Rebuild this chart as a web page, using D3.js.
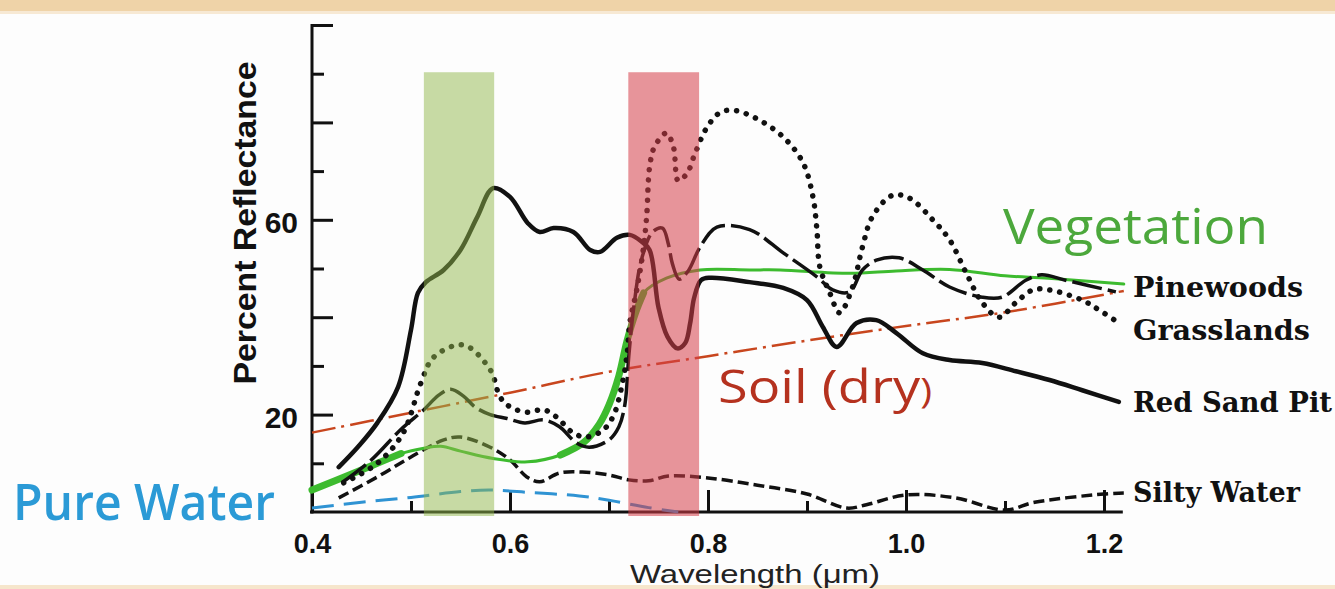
<!DOCTYPE html>
<html>
<head>
<meta charset="utf-8">
<script src="https://cdn.jsdelivr.net/npm/d3@7"></script>
<style>
  body { margin: 0; background: #fff; }
  svg { display: block; }
  .axis text { font-family: "Liberation Sans", Arial, sans-serif; font-weight: bold; fill: #111; }
  .axis line { stroke-width: 3px; }
  .series-label { font-family: "DejaVu Serif", serif; font-weight: bold; font-size: 27px; fill: #111; }
  .big-label { font-family: "Open Sans", sans-serif; }
</style>
</head>
<body>
<script>
// wavelength (um) / percent reflectance
var waveMajor = [0.4, 0.6, 0.8, 1.0, 1.2],
    waveMinor = [0.5, 0.7, 0.9, 1.1],
    reflMajor = [20, 40, 60, 80, 100],
    reflMinor = [10, 30, 50, 70, 90],
    reflLabels = [20, 60];

var greenBand = [0.513, 0.584],
    redBand = [0.7195, 0.791],
    bandTop = 90.3;

var redSandPit = [
  [0.427, 9.2], [0.447, 13.5], [0.466, 18.3], [0.487, 25.7], [0.5, 37.4], [0.507, 45],
  [0.515, 47.2], [0.533, 49.7], [0.55, 53.8], [0.567, 60.6], [0.583, 66.5], [0.6, 64.7],
  [0.618, 59.3], [0.63, 57.5], [0.644, 58.3], [0.664, 57.5], [0.681, 53.8], [0.691, 53.4],
  [0.708, 56.3], [0.721, 56.9], [0.733, 55.5], [0.741, 53.8], [0.75, 42], [0.759, 36],
  [0.769, 33.6], [0.777, 34.7], [0.782, 38.8], [0.786, 44], [0.793, 47.6], [0.802, 48.1],
  [0.842, 47.2], [0.876, 46], [0.9, 43.5], [0.916, 38], [0.93, 33.9], [0.95, 38.8],
  [0.97, 39.4], [0.99, 36.8], [1.017, 32.6], [1.044, 31.2], [1.077, 30.6], [1.111, 28.9],
  [1.145, 27.1], [1.178, 25], [1.215, 22.6]
];

var pinewoods = [
  [0.43, 6], [0.46, 10.7], [0.49, 17], [0.513, 21], [0.528, 24], [0.54, 25.2], [0.553, 23.8],
  [0.565, 21.5], [0.58, 20], [0.597, 19.2], [0.615, 18.3], [0.634, 18.9], [0.65, 17.5],
  [0.667, 14.2], [0.68, 13.3], [0.7, 14.8], [0.71, 17.5], [0.716, 22], [0.72, 32],
  [0.725, 42], [0.733, 52], [0.744, 57.5], [0.754, 58.3], [0.76, 55], [0.764, 51],
  [0.771, 47.8], [0.78, 49.5], [0.792, 54.4], [0.809, 58.5], [0.842, 58], [0.876, 53.2],
  [0.91, 48.3], [0.926, 45.6], [0.943, 45.2], [0.956, 49.7], [0.97, 51.7], [0.993, 52.2],
  [1.017, 49.7], [1.044, 46.2], [1.077, 44.1], [1.097, 44.1], [1.121, 47.6], [1.137, 48.7],
  [1.161, 47.6], [1.212, 45.2]
];

var grasslands = [
  [0.432, 6], [0.466, 10], [0.492, 16.2], [0.51, 26.5], [0.523, 31.8], [0.553, 34.3],
  [0.58, 29.2], [0.59, 23.6], [0.6, 21.6], [0.617, 20.5], [0.634, 21], [0.647, 19.5],
  [0.664, 16.2], [0.678, 15.4], [0.695, 17], [0.705, 20], [0.712, 25], [0.718, 31.8],
  [0.721, 38.8], [0.728, 45.6], [0.734, 53], [0.738, 60.6], [0.741, 70.8], [0.746, 75],
  [0.758, 77.8], [0.765, 75], [0.77, 68], [0.779, 69.6], [0.787, 73.7], [0.799, 79],
  [0.812, 82], [0.825, 82.5], [0.847, 81], [0.876, 77], [0.896, 71.7], [0.906, 64.7],
  [0.91, 58], [0.913, 50.3], [0.923, 45], [0.933, 40.9], [0.946, 46.2], [0.956, 54.4],
  [0.966, 60.6], [0.986, 65], [1.003, 64.5], [1.027, 60], [1.044, 55.9], [1.061, 49],
  [1.077, 43], [1.094, 40], [1.111, 43], [1.128, 45.6], [1.145, 45.6], [1.178, 43.5],
  [1.195, 41.5], [1.215, 38.8]
];

var siltyWater = [
  [0.427, 2.9], [0.466, 7.2], [0.5, 11.3], [0.533, 14.8], [0.55, 15.4], [0.58, 13.3],
  [0.6, 10.7], [0.617, 7.2], [0.63, 6.2], [0.65, 8], [0.673, 8.2], [0.7, 7.6], [0.72, 6.6],
  [0.74, 6.4], [0.76, 7.4], [0.8, 7], [0.85, 5.5], [0.9, 3.7], [0.94, 0.8], [0.96, 1.5],
  [1.0, 3.5], [1.05, 2.9], [1.1, 0.4], [1.13, 2], [1.2, 3.7], [1.22, 3.9]
];

var pureWater = [
  [0.4, 0.8], [0.45, 2], [0.5, 3], [0.55, 4.2], [0.58, 4.5], [0.62, 4], [0.67, 3.3],
  [0.7, 2.4], [0.74, 0.9], [0.77, 0]
];

var soilDry = [
  [0.4, 16.3], [0.5, 20.4], [0.6, 24.5], [0.7, 28.8], [0.8, 32], [0.9, 35.2],
  [1.0, 38.2], [1.1, 41], [1.22, 45.4]
];

var vegetation = [
  [0.4, 4.5], [0.44, 7.8], [0.466, 10], [0.49, 12], [0.513, 13.1], [0.53, 13.5],
  [0.55, 12.5], [0.583, 11], [0.618, 10.3], [0.651, 11.7], [0.674, 14.2], [0.69, 18],
  [0.7, 22], [0.71, 28], [0.718, 35], [0.727, 41], [0.735, 45], [0.758, 48], [0.792, 49.7],
  [0.842, 49.7], [0.873, 49.7], [0.943, 49], [0.99, 49.5], [1.044, 49.8], [1.1, 48.5],
  [1.144, 48], [1.22, 46.8]
];

var width = 1335, height = 589;

var svg = d3.select("body").append("svg")
    .attr("width", width)
    .attr("height", height);

svg.append("rect").attr("width", width).attr("height", height).attr("fill", "#fdfdfd");
// beige frame of the slide
svg.append("rect").attr("x", 0).attr("y", 0).attr("width", width).attr("height", 11).attr("fill", "#efd3a8");
svg.append("rect").attr("x", 0).attr("y", 11).attr("width", width).attr("height", 3).attr("fill", "#f7e9d4");
svg.append("rect").attr("x", 0).attr("y", 585).attr("width", width).attr("height", 4).attr("fill", "#f6e6cc");

var x = d3.scaleLinear().domain([0.4, 1.2]).range([312, 1104]);
var y = d3.scaleLinear().domain([0, 100]).range([512, 25]);

var line = d3.line()
    .x(function(d) { return x(d[0]); })
    .y(function(d) { return y(d[1]); })
    .curve(d3.curveCatmullRom.alpha(0.5));

// axes
var axesG = svg.append("g").attr("class", "axis").attr("color", "#111");

axesG.append("g")
    .attr("transform", "translate(0," + y(0) + ")")
    .call(d3.axisBottom(x).tickValues(waveMajor).tickSize(-22).tickPadding(22)
        .tickFormat(d3.format(".1f")))
    .call(function(g) { g.select(".domain").remove(); })
    .selectAll("text").style("font-size", "27px");

axesG.append("g")
    .attr("transform", "translate(0," + y(0) + ")")
    .call(d3.axisBottom(x).tickValues(waveMinor).tickSize(-11).tickFormat(""))
    .call(function(g) { g.select(".domain").remove(); });

axesG.append("g")
    .attr("transform", "translate(" + x(0.4) + ",0)")
    .call(d3.axisLeft(y).tickValues(reflMajor).tickSize(-21).tickPadding(14)
        .tickFormat(function(d) { return reflLabels.indexOf(d) >= 0 ? d : ""; }))
    .call(function(g) { g.select(".domain").remove(); })
    .selectAll("text").style("font-size", "30px").attr("dy", "0.42em");

axesG.append("g")
    .attr("transform", "translate(" + x(0.4) + ",0)")
    .call(d3.axisLeft(y).tickValues(reflMinor).tickSize(-12).tickFormat(""))
    .call(function(g) { g.select(".domain").remove(); });

axesG.append("line")
    .attr("x1", x(0.4)).attr("x2", x(0.4))
    .attr("y1", y(100) - 1).attr("y2", y(0) + 1.5)
    .attr("stroke", "#111").attr("stroke-width", 3.5);
axesG.append("line")
    .attr("x1", x(0.4) - 2).attr("x2", x(1.219))
    .attr("y1", y(0)).attr("y2", y(0))
    .attr("stroke", "#111").attr("stroke-width", 3);

// curves
var bodyG = svg.append("g").attr("fill", "none").attr("stroke-linecap", "round");

bodyG.append("path").datum(soilDry)
    .attr("d", line)
    .attr("stroke", "#c8461e").attr("stroke-width", 2.5)
    .attr("stroke-linecap", "butt")
    .attr("stroke-dasharray", "24,6,3,6");

bodyG.append("path").datum(pureWater)
    .attr("d", line)
    .attr("stroke", "#2f93d3").attr("stroke-width", 3)
    .attr("stroke-linecap", "butt")
    .attr("stroke-dasharray", "22,10");

bodyG.append("path").datum(siltyWater)
    .attr("d", line)
    .attr("stroke", "#111").attr("stroke-width", 3.5)
    .attr("stroke-linecap", "butt")
    .attr("stroke-dasharray", "11,5");

bodyG.append("path").datum(vegetation)
    .attr("d", line)
    .attr("stroke", "#3dbb2f").attr("stroke-width", 3);

[[0.4, 0.5], [0.64, 0.745]].forEach(function(r) {
    bodyG.append("path")
        .datum(vegetation.filter(function(d) { return d[0] >= r[0] && d[0] <= r[1]; }))
        .attr("d", line)
        .attr("stroke", "#3dbb2f").attr("stroke-width", 7);
});

bodyG.append("path").datum(grasslands)
    .attr("d", line)
    .attr("stroke", "#111").attr("stroke-width", 5.5)
    .attr("stroke-dasharray", "0.1,10");

bodyG.append("path").datum(pinewoods)
    .attr("d", line)
    .attr("stroke", "#111").attr("stroke-width", 3.5)
    .attr("stroke-linecap", "butt")
    .attr("stroke-dasharray", "30,6");

bodyG.append("path").datum(redSandPit)
    .attr("d", line)
    .attr("stroke", "#111").attr("stroke-width", 4.5);

// highlighted bands, on top of the curves
svg.append("rect")
    .attr("x", x(greenBand[0])).attr("width", x(greenBand[1]) - x(greenBand[0]))
    .attr("y", y(bandTop)).attr("height", y(0) + 4 - y(bandTop))
    .attr("fill", "rgb(145,183,75)").attr("opacity", 0.5);
svg.append("rect")
    .attr("x", x(redBand[0])).attr("width", x(redBand[1]) - x(redBand[0]))
    .attr("y", y(bandTop)).attr("height", y(0) + 4 - y(bandTop))
    .attr("fill", "rgb(213,62,73)").attr("opacity", 0.55);

// axis titles
svg.append("text")
    .attr("transform", "translate(256," + 223 + ") rotate(-90)")
    .attr("text-anchor", "middle")
    .attr("textLength", 323).attr("lengthAdjust", "spacingAndGlyphs")
    .style("font-family", "'Liberation Sans', Arial, sans-serif")
    .style("font-weight", "bold").style("font-size", "32px").style("fill", "#111")
    .text("Percent Reflectance");

svg.append("text")
    .attr("x", 755).attr("y", 583)
    .attr("text-anchor", "middle")
    .attr("textLength", 250).attr("lengthAdjust", "spacingAndGlyphs")
    .style("font-family", "'Liberation Sans', Arial, sans-serif")
    .style("font-size", "25px").style("fill", "#222")
    .text("Wavelength (\u03bcm)");

// series labels
var labels = [
    { text: "Pinewoods", y: 297, len: 170 },
    { text: "Grasslands", y: 340, len: 177 },
    { text: "Red Sand Pit", y: 412, len: 199 },
    { text: "Silty Water", y: 502, len: 167 }
];
svg.selectAll("text.series-label").data(labels).enter()
    .append("text")
    .attr("class", "series-label")
    .attr("x", 1133).attr("y", function(d) { return d.y; })
    .attr("textLength", function(d) { return d.len; })
    .attr("lengthAdjust", "spacingAndGlyphs")
    .text(function(d) { return d.text; });

svg.append("text")
    .attr("class", "big-label")
    .attr("x", 1003).attr("y", 244)
    .attr("textLength", 265).attr("lengthAdjust", "spacingAndGlyphs")
    .style("font-size", "50px").style("font-weight", 500).style("fill", "#4ca83c")
    .text("Vegetation");

var soilText = svg.append("text")
    .attr("class", "big-label")
    .attr("x", 718).attr("y", 403)
    .attr("textLength", 214).attr("lengthAdjust", "spacingAndGlyphs")
    .style("font-size", "46px").style("fill", "#b5321f");
soilText.append("tspan").text("Soil (dry");
soilText.append("tspan").style("font-size", "34px").text(")");

svg.append("text")
    .attr("class", "big-label")
    .attr("x", 13).attr("y", 520)
    .attr("textLength", 262).attr("lengthAdjust", "spacingAndGlyphs")
    .style("font-size", "50px").style("font-weight", 600).style("fill", "#2b9ad6")
    .text("Pure Water");
</script>
</body>
</html>
